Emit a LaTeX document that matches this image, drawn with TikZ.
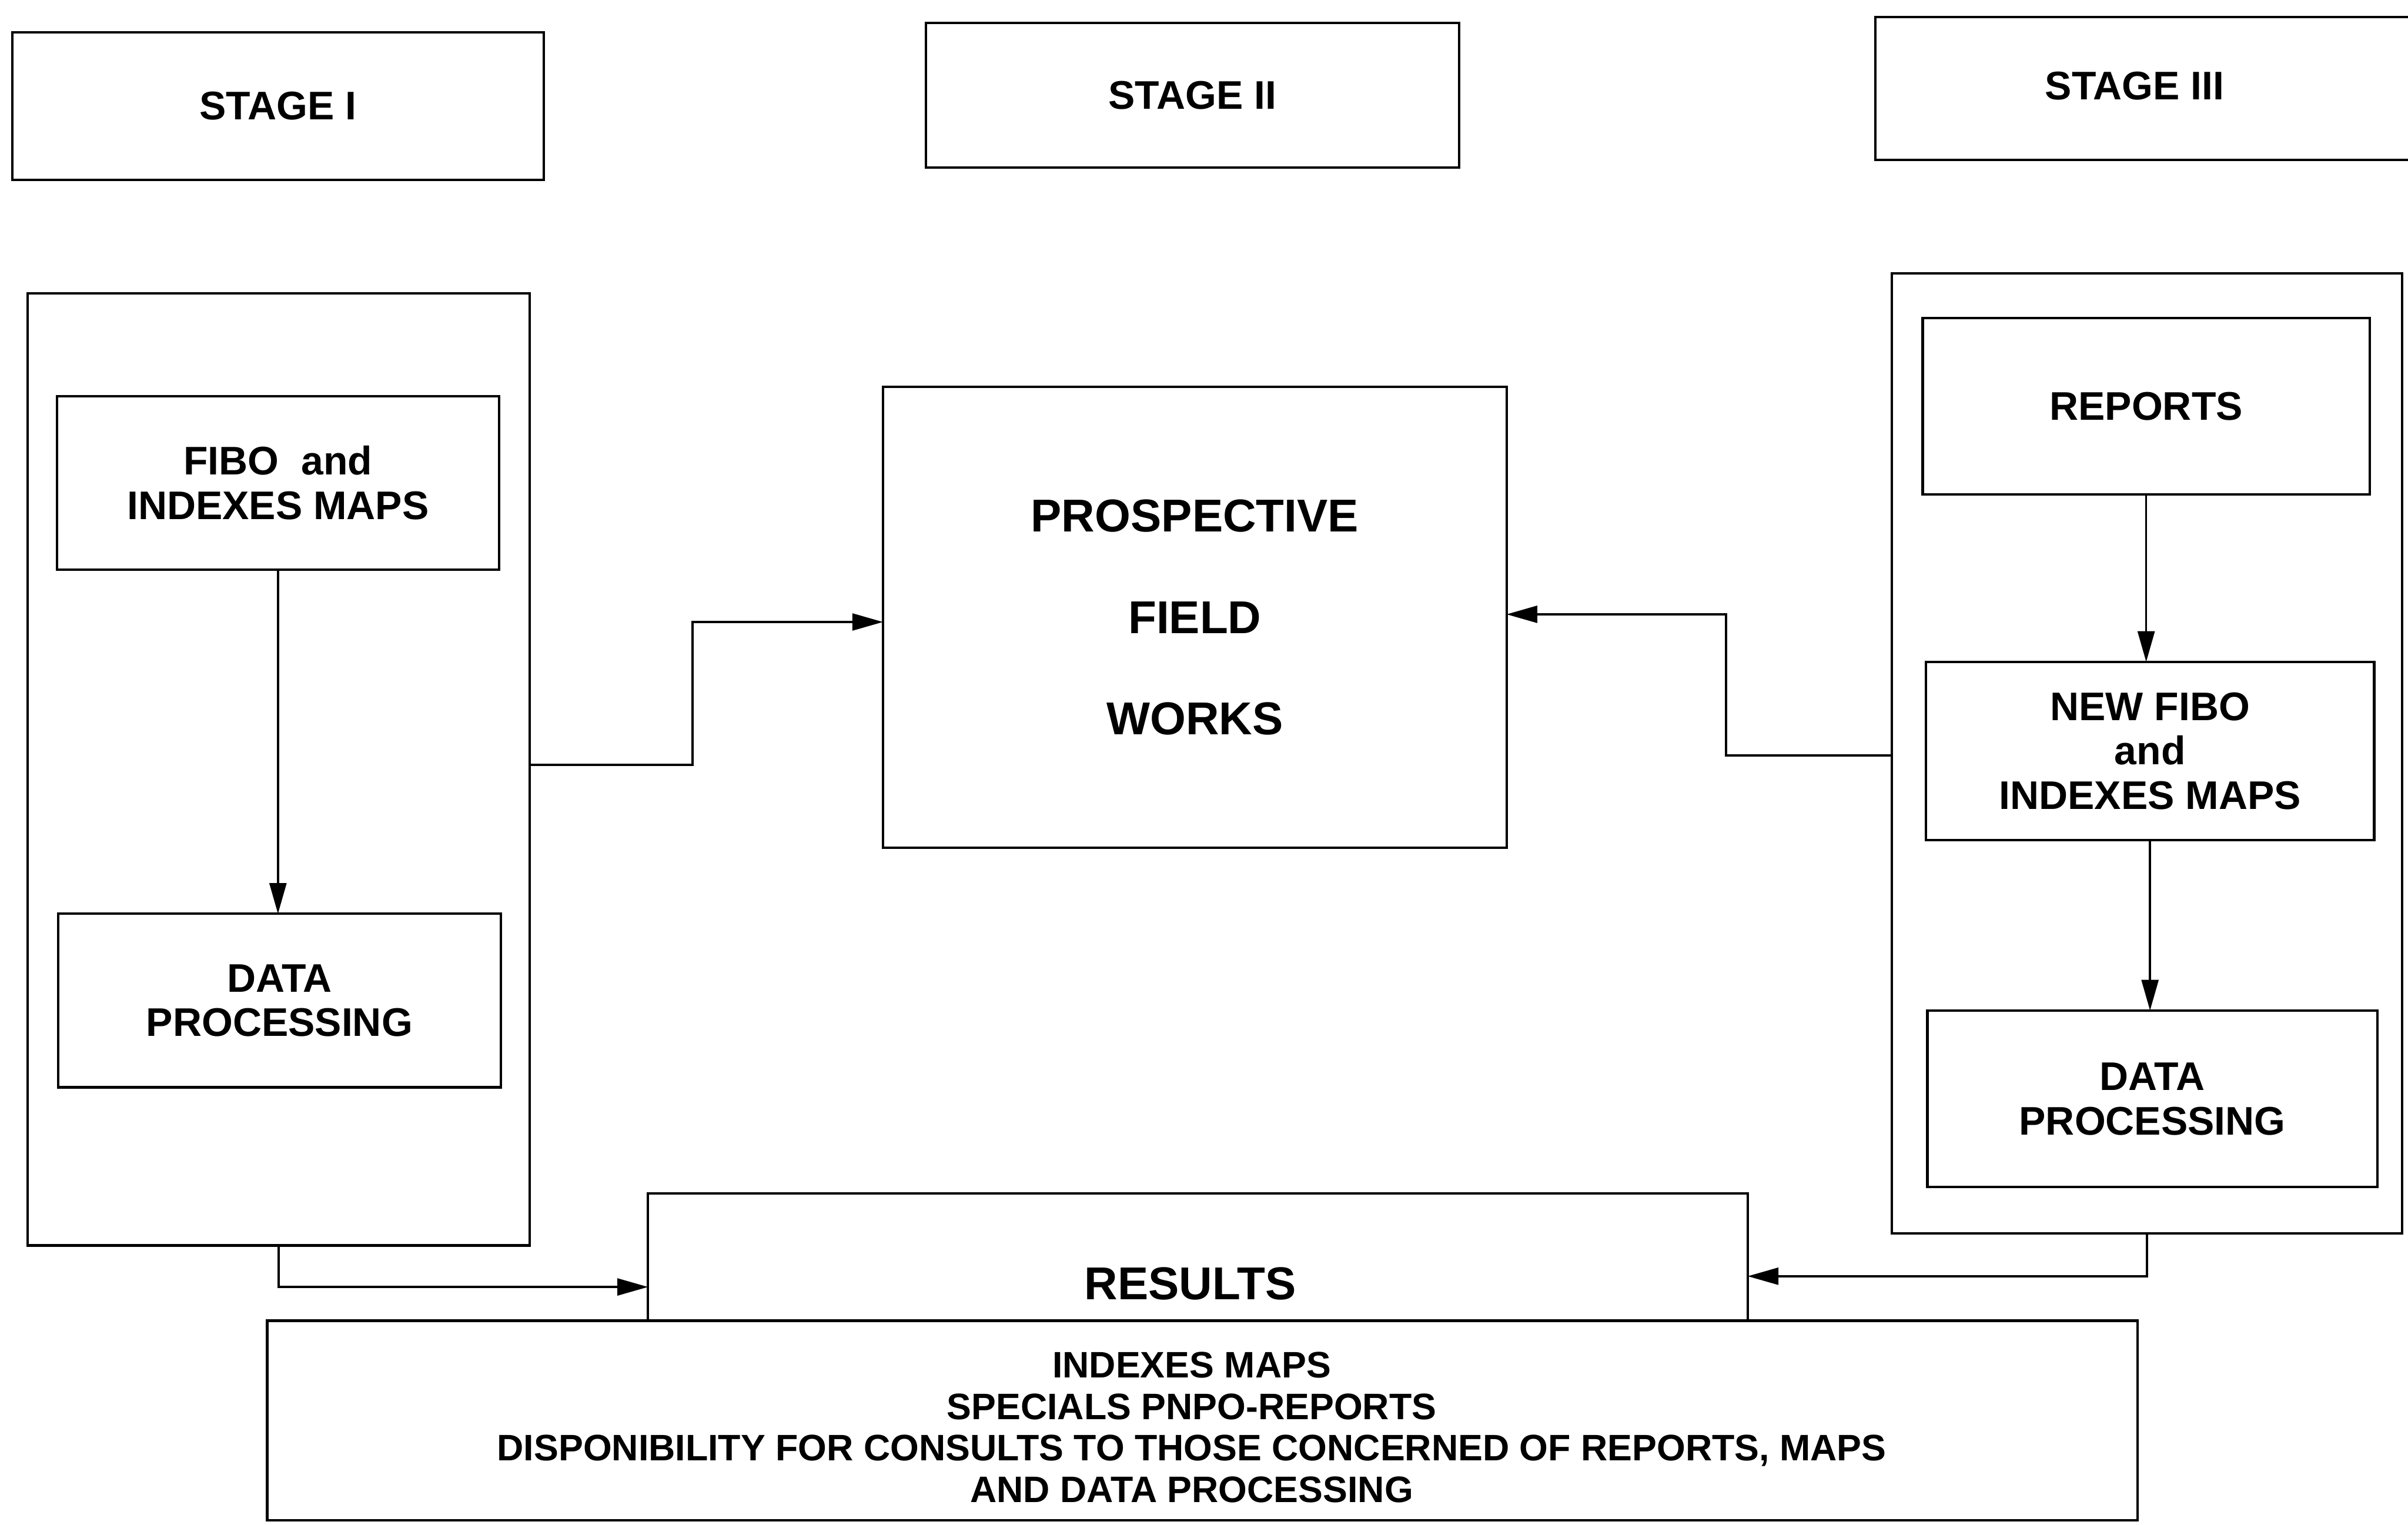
\documentclass[tikz,border=0pt]{standalone}
\usepackage{fontspec}
\setmainfont{Liberation Sans}
\usetikzlibrary{arrows.meta}
\begin{document}
\begin{tikzpicture}[x=0.5pt,y=-0.5pt,
  box/.style 2 args={draw, line width=0.8pt, minimum width=#1*0.5pt, minimum height=#2*0.5pt,
    inner sep=0pt, outer sep=0pt, align=center, font=\fontsize{13}{14.5}\selectfont\bfseries},
  txt/.style={inner sep=0pt, align=center, font=\fontsize{13}{14.5}\selectfont\bfseries},
  conn/.style={line width=0.7pt, -{Triangle[length=10pt,width=5.5pt]}},
  frame/.style={line width=0.8pt}
]
\useasboundingbox (0,0) rectangle (1568,993);
% stage headers
\node[box={346}{96}] (s1) at (181,69) {STAGE I};
\node[box={347}{94}] (s2) at (776.5,62) {STAGE II};
\draw[frame] (1568,11) -- (1221,11) -- (1221,104) -- (1568,104);
\node[txt] (s3) at (1390,56) {STAGE III};
% stage I
\node[box={327}{620}] (s1o) at (181.5,501) {};
\node[box={288}{113}] (fibo) at (181,314.5) {FIBO\ \ and\\INDEXES MAPS};
\node[box={288}{113}] (dp1) at (182,651.5) {DATA\\PROCESSING};
% stage II
\node[box={406}{300}, font=\fontsize{15}{33}\selectfont\bfseries] (pros) at (778,402) {PROSPECTIVE\\FIELD\\WORKS};
% stage III
\node[box={332}{625}] (s3o) at (1398,490.5) {};
\node[box={291}{115}] (rep) at (1397.5,264.5) {REPORTS};
\node[box={292}{116}] (nfibo) at (1400,489) {NEW FIBO\\and\\INDEXES MAPS};
\node[box={293}{115}] (dp3) at (1401.5,715.5) {DATA\\PROCESSING};
% results
\node[box={716}{83}] (res) at (780,818.5) {};
\node[txt, font=\fontsize{15}{18}\selectfont\bfseries] (restxt) at (775,836) {RESULTS};
\node[box={1218}{130}] (bot) at (783,925) {};
\node[txt, font=\fontsize{12}{13.5}\selectfont\bfseries] (bottxt) at (776,929.5)
  {INDEXES MAPS\\SPECIALS PNPO-REPORTS\\DISPONIBILITY FOR CONSULTS TO THOSE CONCERNED OF REPORTS, MAPS\\AND DATA PROCESSING};
% connectors
\draw[conn] (fibo.south) -- (dp1.north -| fibo.south);
\draw[conn] ([yshift=1.5pt]s1o.east) -- ++(106,0) |- ([yshift=-1.5pt]pros.west);
\draw[conn] ([yshift=-0.75pt]s3o.west) -- ++(-108,0) |- ([yshift=1pt]pros.east);
\draw[conn] (rep.south) -- (rep.south |- nfibo.north);
\draw[conn] (nfibo.south) -- (nfibo.south |- dp3.north);
\draw[conn] (s1o.south) |- ([yshift=11pt]res.south west);
\draw[conn] (s3o.south) |- ([yshift=14.5pt]res.south east);
\end{tikzpicture}
\end{document}
